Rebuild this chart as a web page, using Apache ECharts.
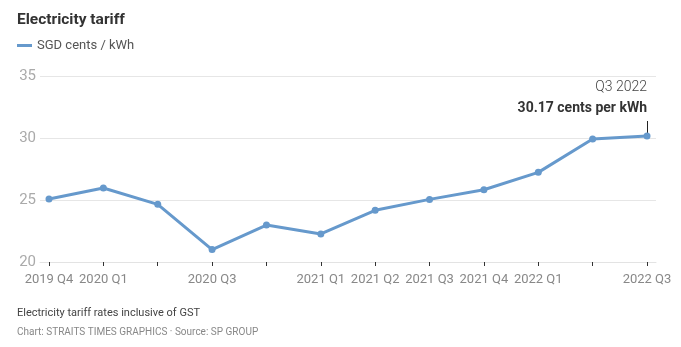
<!DOCTYPE html>
<html><head><meta charset="utf-8">
<script src="https://cdn.jsdelivr.net/npm/echarts@6/dist/echarts.min.js"></script>
<style>html,body{margin:0;padding:0;background:#fff}#c{width:681px;height:347px}</style>
</head><body><div id="c"></div>
<script>
const categories = ['2019 Q4','2020 Q1','2020 Q2','2020 Q3','2020 Q4','2021 Q1','2021 Q2','2021 Q3','2021 Q4','2022 Q1','2022 Q2','2022 Q3'];
const tariff = [25.08, 25.97, 24.65, 21.0, 22.98, 22.26, 24.17, 25.05, 25.83, 27.23, 29.92, 30.17];
const shownLabels = ['2019 Q4','2020 Q1','2020 Q3','2021 Q1','2021 Q2','2021 Q3','2021 Q4','2022 Q1','2022 Q3'];
const yTicks = [20, 25, 30, 35];

const FONT = 'Roboto, "Noto Sans", sans-serif';
const chart = echarts.init(document.getElementById('c'));
const idx = categories.map((c, i) => i);
chart.setOption({
  animation: false,
  textStyle: { fontFamily: FONT },
  title: {
    text: 'Electricity tariff', left: 12, top: 7,
    textStyle: { fontSize: 15.5, fontWeight: 'bold', color: '#333', fontFamily: FONT }
  },
  legend: {
    left: 12, top: 34, icon: 'rect', itemWidth: 15, itemHeight: 3, itemGap: 5,
    textStyle: { fontSize: 13, color: '#555', fontFamily: FONT },
    data: ['SGD cents / kWh']
  },
  grid: { left: 40, right: 25, top: 76, bottom: 85 },
  xAxis: {
    type: 'value',
    min: -(9 / (598 / 11)), max: 11 + 9 / (598 / 11),
    splitLine: { show: false },
    axisLine: { show: true, lineStyle: { color: '#e3e3e3', width: 1 } },
    axisTick: { show: true, customValues: idx, length: 4, lineStyle: { color: '#333', width: 1 } },
    axisLabel: {
      customValues: shownLabels.map(l => categories.indexOf(l)),
      formatter: v => categories[Math.round(v)],
      fontSize: 13, color: '#888', margin: 11, fontFamily: FONT
    }
  },
  yAxis: {
    type: 'value', min: yTicks[0], max: yTicks[yTicks.length - 1], interval: 5,
    axisLine: { show: false }, axisTick: { show: false },
    splitLine: { lineStyle: { color: '#e6e6e6', width: 1 } },
    axisLabel: { fontSize: 15, color: '#aaa', margin: 4, fontFamily: FONT }
  },
  series: [{
    name: 'SGD cents / kWh', type: 'line',
    data: tariff.map((v, i) => [i, v]),
    symbol: 'circle', symbolSize: 7,
    lineStyle: { color: '#6699cc', width: 3 },
    itemStyle: { color: '#6699cc' },
    z: 5
  }],
  graphic: [
    { type: 'text', right: 34, top: 80, style: { text: 'Q3 2022', fontSize: 14, fill: '#444', fontFamily: FONT, fontWeight: 300, textAlign: 'right' } },
    { type: 'text', right: 34, top: 101, style: { text: '30.17 cents per kWh', fontSize: 14, fontWeight: 'bold', fill: '#333', fontFamily: FONT } },
    { type: 'line', shape: { x1: 647.5, y1: 121, x2: 647.5, y2: 135 }, style: { stroke: '#222', lineWidth: 1 } },
    { type: 'text', left: 17, top: 308, style: { text: 'Electricity tariff rates inclusive of GST', fontSize: 11, fill: '#444', fontFamily: FONT } },
    { type: 'text', left: 17, top: 327, style: { text: 'Chart: STRAITS TIMES GRAPHICS \u00b7 Source: SP GROUP', fontSize: 10, fill: '#888', fontFamily: FONT } }
  ]
});
</script>
</body></html>
